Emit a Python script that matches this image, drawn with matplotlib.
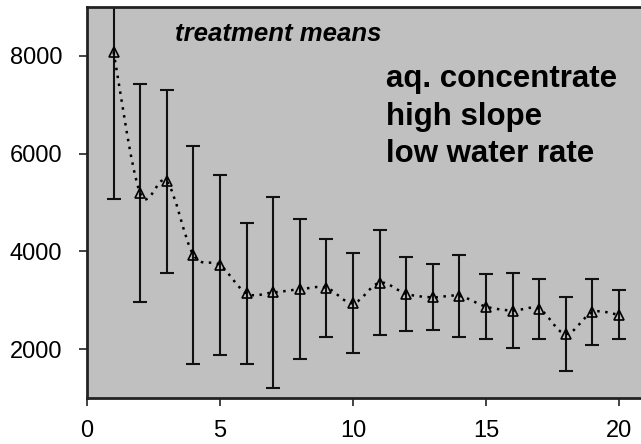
import numpy as np
import matplotlib
matplotlib.use("Agg")
import matplotlib.pyplot as plt
from matplotlib.path import Path
from matplotlib.patches import PathPatch

# treatment number
treatment = [1, 2, 3, 4, 5, 6, 7, 8, 9, 10, 11, 12, 13, 14, 15, 16, 17, 18, 19, 20]
# treatment means
means = [8080, 5190, 5430, 3930, 3720, 3140, 3160, 3225, 3255, 2940,
         3360, 3130, 3060, 3090, 2870, 2790, 2820, 2310, 2755, 2700]
# error bar half width
errors = [3000, 2230, 1880, 2235, 1850, 1450, 1950, 1430, 1000, 1020,
          1080, 765, 675, 835, 665, 765, 620, 755, 675, 500]

xticks = [0, 5, 10, 15, 20]
yticks = [2000, 4000, 6000, 8000]
labels = ["aq. concentrate", "high slope", "low water rate"]

plt.rcParams['font.family'] = ['Liberation Sans', 'DejaVu Sans']

fig = plt.figure(figsize=(6.41, 4.44), dpi=100)
ax = fig.add_axes([87 / 641, 46 / 444, 1 - 87 / 641, 391 / 444])
ax.set_facecolor('#c0c0c0')

x = np.array(treatment, dtype=float)
y = np.array(means, dtype=float)


# smoothed line like the spreadsheet one (bezier through the means)
def smooth_path(px, py):
    pts = np.column_stack([px, py])
    verts = [pts[0]]
    codes = [Path.MOVETO]
    n = len(pts)
    for i in range(n - 1):
        p0 = pts[i - 1] if i > 0 else pts[i]
        p1 = pts[i]
        p2 = pts[i + 1]
        p3 = pts[i + 2] if i + 2 < n else pts[i + 1]
        c1 = p1 + (p2 - p0) / 6.0
        c2 = p2 - (p3 - p1) / 6.0
        verts += [c1, c2, p2]
        codes += [Path.CURVE4] * 3
    return Path(verts, codes)


patch = PathPatch(smooth_path(x, y), facecolor='none', edgecolor='black',
                  linewidth=1.8, linestyle=(0, (1, 2.2)), zorder=3)
ax.add_patch(patch)

ax.errorbar(x, y, yerr=errors, fmt='none', ecolor='#111111', elinewidth=1.5,
            capsize=5, capthick=1.5, zorder=2)
ax.plot(x, y, linestyle='none', marker='^', markersize=7,
        markerfacecolor='none', markeredgecolor='black', markeredgewidth=1.2,
        zorder=4)

ax.set_xlim(0, 554 / 26.6)
ax.set_ylim(1000, 9000)
ax.set_xticks(xticks)
ax.set_yticks(yticks)
ax.tick_params(axis='both', direction='out', length=6, width=1.2,
               labelsize=17, color='#222222')
ax.tick_params(axis='y', pad=12)
ax.tick_params(axis='x', pad=10)

for side in ['left', 'bottom', 'top']:
    ax.spines[side].set_linewidth(2)
    ax.spines[side].set_color('#222222')
ax.spines['right'].set_visible(False)

ax.text(175 / 641, 1 - 41 / 444, 'treatment means', transform=fig.transFigure,
        fontsize=18.5, fontweight='bold', fontstyle='italic', va='baseline')
for i, lab in enumerate(labels):
    ax.text(386 / 641, 1 - (87 + i * 37.5) / 444, lab, transform=fig.transFigure,
            fontsize=22.5, fontweight='bold', va='baseline')

fig.savefig('out.png', dpi=100)
